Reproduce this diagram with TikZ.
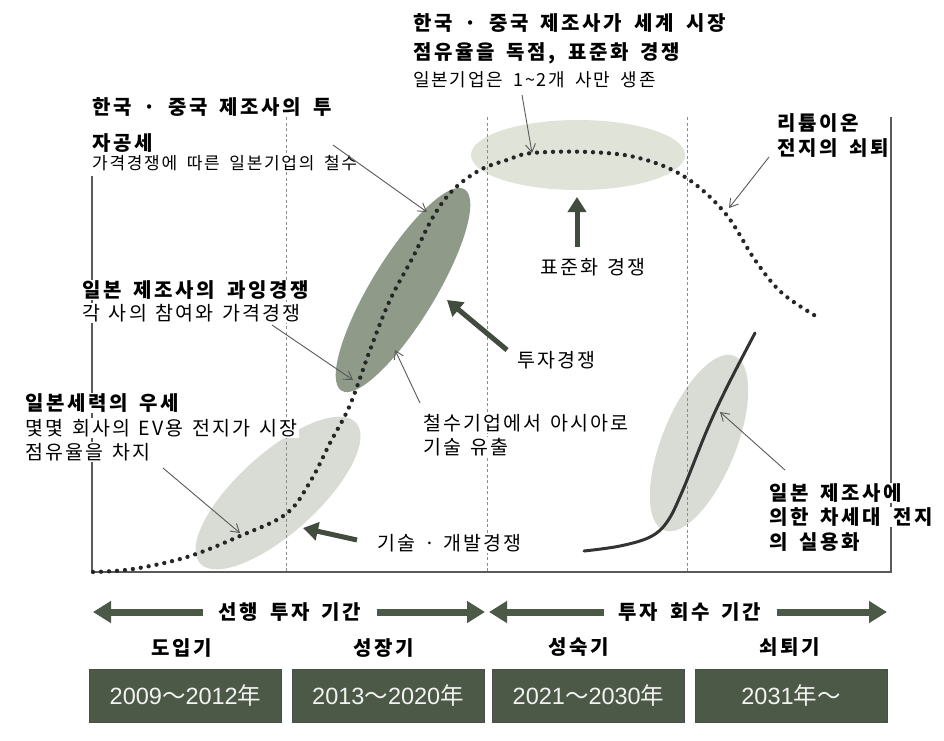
\documentclass[tikz,border=0pt]{standalone}
\usepackage{fontspec}
\usetikzlibrary{arrows.meta}
\newfontfamily\krh[LetterSpace=13,WordSpace=1.7]{Noto Sans CJK KR}
\newfontfamily\krr[LetterSpace=11,WordSpace=1.35]{Noto Sans CJK KR}
\newfontfamily\krs[LetterSpace=10,WordSpace=1.75]{Noto Sans CJK KR}
\newfontfamily\numf{Liberation Sans}
\newfontfamily\cjkn{Noto Sans CJK KR}
\definecolor{boxg}{HTML}{4C5946}
\definecolor{arrg}{HTML}{414B3E}
\definecolor{darkell}{HTML}{8F9B88}
\definecolor{lightell}{HTML}{D9DCD4}
\definecolor{topell}{HTML}{DFE3D8}
\definecolor{axisc}{HTML}{5A5A5A}
\begin{document}
\begin{tikzpicture}[x=1pt,y=-1pt,
  lbl/.style={anchor=west, inner sep=1pt, fill=white, text=black},
  hb/.style={lbl, font=\krh\bfseries\fontsize{20}{24}\selectfont},
  rg/.style={lbl, font=\krr\fontsize{19.5}{22}\selectfont},
  rs/.style={lbl, font=\krs\fontsize{17}{20}\selectfont},
  rt/.style={lbl, font=\krs\fontsize{18}{20}\selectfont},
  hc/.style={anchor=center, inner sep=1pt, fill=white, font=\krh\bfseries\fontsize{20}{24}\selectfont},
  thinarrow/.style={draw=black!65, line width=0.9pt, -{Straight Barb[length=8pt,width=10pt]}},
  thickarrow/.style={draw=arrg, line width=5pt, -{Triangle[length=15pt,width=18pt]}},
  periodarrow/.style={draw=boxg, line width=7pt, -{Triangle[length=18pt,width=21pt]}},
  yearbox/.style={fill=boxg, draw=black!70, line width=0.6pt, minimum width=192pt, minimum height=53pt, inner sep=0pt, text=white!95!black, font=\numf\fontsize{23.5}{26}\selectfont},
  gridline/.style={draw=black!45, line width=0.8pt, dash pattern=on 3pt off 2.5pt},
]
\useasboundingbox (0,0) rectangle (944,740);
\fill[white] (0,0) rectangle (944,740);

% ellipses
\fill[lightell, rotate around={42:(278,493)}] (278,493) ellipse [x radius=105, y radius=40];
\fill[darkell, rotate around={58.6:(403,290)}] (403,290) ellipse [x radius=118, y radius=32];
\fill[topell] (578,155) ellipse [x radius=107, y radius=35];
\fill[lightell, rotate around={68:(699,443)}] (699,443) ellipse [x radius=94, y radius=37];

% period grid lines
\coordinate (g1t) at (286,117); \coordinate (g1b) at (286,572);
\coordinate (g2t) at (487,117); \coordinate (g2b) at (487,572);
\coordinate (g3t) at (687,117); \coordinate (g3b) at (687,572);
\draw[gridline] (g1t) -- (g1b);
\draw[gridline] (g2t) -- (g2b);
\draw[gridline] (g3t) -- (g3b);

% axes
\coordinate (ytop) at (92,176); \coordinate (orig) at (92,572);
\coordinate (xend) at (891,572); \coordinate (rtop) at (891,117);
\draw[axisc, line width=2pt] (ytop) -- (orig) -- (xend) -- (rtop);

% dotted lithium-ion curve
\draw[black!85, line width=4.3pt, dash pattern=on 0pt off 8pt, line cap=round]
  plot[smooth, tension=0.6] coordinates {(93,572) (133,569) (187,557) (240,536) (286,514) (310,482) (330,443) (350,405) (370,350) (390,300) (413,257) (433,217) (453,190) (480,170) (507,160) (532,153) (589,152) (639,158) (685,177) (725,213) (755,260) (782,293) (819,318)};

% solid next-generation curve
\draw[black!80, line width=3pt, line cap=round]
  plot[smooth, tension=0.6] coordinates {(584,551) (620,546) (650,537) (667,522) (682,492) (707,430) (727,387) (755,333)};

% thick arrows
\coordinate (b1s) at (577,247); \coordinate (b1e) at (577,197);
\coordinate (b2s) at (507,350); \coordinate (b2e) at (447,300);
\coordinate (b3s) at (357,540); \coordinate (b3e) at (303,528);
\draw[thickarrow] (b1s) -- (b1e);
\draw[thickarrow] (b2s) -- (b2e);
\draw[thickarrow] (b3s) -- (b3e);

% labels
\node[hb] (t1) at (412,23) {한국 · 중국 제조사가 세계 시장};
\node[hb] (t2) at (412,53) {점유율을 독점, 표준화 경쟁};
\node[rt] (t3) at (412,80) {일본기업은 1\textasciitilde 2개 사만 생존};
\node[hb] (k1) at (91,107) {한국 · 중국 제조사의 투};
\node[hb] (k2) at (91,143) {자공세};
\node[rs] (k3) at (91,163) {가격경쟁에 따른 일본기업의 철수};
\node[hb] (j1) at (81,290) {일본 제조사의 과잉경쟁};
\node[rg] (j2) at (81,313) {각 사의 참여와 가격경쟁};
\node[hb] (s1) at (24,403) {일본세력의 우세};
\node[rg] (s2) at (24,428) {몇몇 회사의 EV용 전지가 시장};
\node[rg] (s3) at (24,452) {점유율을 차지};
\node[rg] (c1) at (422,423) {철수기업에서 아시아로};
\node[rg] (c2) at (422,447) {기술 유출};
\node[rg] (iv) at (516,360) {투자경쟁};
\node[rg] (pz) at (539,267) {표준화 경쟁};
\node[rg] (gd) at (376,543) {기술 · 개발경쟁};
\node[hb] (l1) at (776,123) {리튬이온};
\node[hb] (l2) at (776,148) {전지의 쇠퇴};
\node[hb] (n1) at (768,493) {일본 제조사에};
\node[hb] (n2) at (768,517) {의한 차세대 전지};
\node[hb] (n3) at (768,542) {의 실용화};

% thin pointer arrows
\coordinate (a1s) at (522,95);  \coordinate (a1e) at (532,153);
\coordinate (a2s) at (333,145); \coordinate (a2e) at (427,212);
\coordinate (a3s) at (272,325); \coordinate (a3e) at (353,380);
\coordinate (a4s) at (420,403); \coordinate (a4e) at (395,350);
\coordinate (a5s) at (163,468); \coordinate (a5e) at (240,533);
\coordinate (a6s) at (769,157); \coordinate (a6e) at (729,208);
\coordinate (a7s) at (785,470); \coordinate (a7e) at (720,412);
\draw[thinarrow] (a1s) -- (a1e);
\draw[thinarrow] (a2s) -- (a2e);
\draw[thinarrow] (a3s) -- (a3e);
\draw[thinarrow] (a4s) -- (a4e);
\draw[thinarrow] (a5s) -- (a5e);
\draw[thinarrow] (a6s) -- (a6e);
\draw[thinarrow] (a7s) -- (a7e);

% period arrows
\node[hc] (pre) at (290,612) {선행 투자 기간};
\node[hc] (ret) at (690,612) {투자 회수 기간};
\coordinate (d1l) at (93,612);  \coordinate (d1r) at (485,612);
\coordinate (d2l) at (489,612); \coordinate (d2r) at (887,612);
\draw[periodarrow] ([xshift=-14pt]pre.west) -- (d1l);
\draw[periodarrow] ([xshift=14pt]pre.east) -- (d1r);
\draw[periodarrow] ([xshift=-14pt]ret.west) -- (d2l);
\draw[periodarrow] ([xshift=14pt]ret.east) -- (d2r);

% stage names
\node[hc] (st1) at (182,648) {도입기};
\node[hc] (st2) at (384,648) {성장기};
\node[hc] (st3) at (579,647) {성숙기};
\node[hc] (st4) at (790,647) {쇠퇴기};

% year boxes
\node[yearbox] (y1) at (185.5,695.5) {2009{\cjkn ～}2012{\cjkn 年}};
\node[yearbox] (y2) at (388,695.5) {2013{\cjkn ～}2020{\cjkn 年}};
\node[yearbox] (y3) at (588.5,695.5) {2021{\cjkn ～}2030{\cjkn 年}};
\node[yearbox] (y4) at (791,695.5) {2031{\cjkn 年～}};
\end{tikzpicture}
\end{document}
